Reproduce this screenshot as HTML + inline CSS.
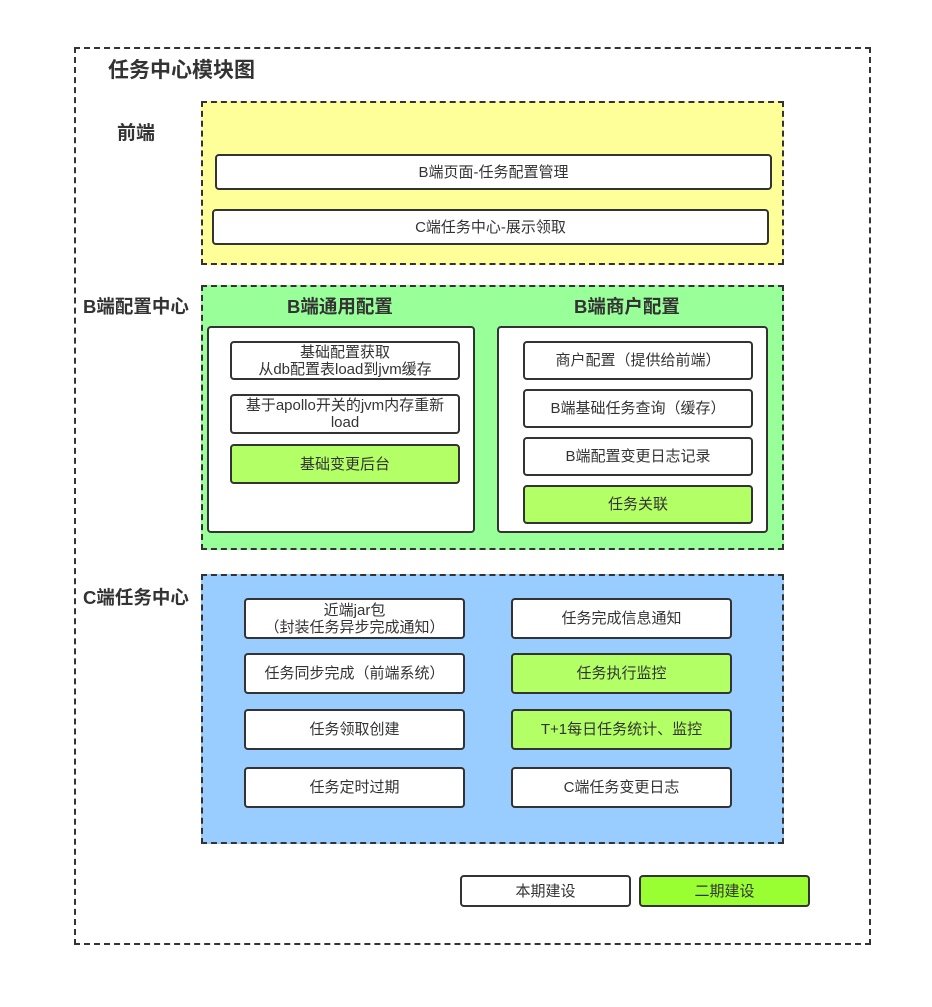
<!DOCTYPE html>
<html><head><meta charset="utf-8"><style>
body{margin:0;width:932px;height:1007px;background:#fff;position:relative;overflow:hidden;font-family:"Liberation Sans","Noto Sans CJK SC",sans-serif;color:#333}
.a{position:absolute;box-sizing:border-box}
.d{border:2px dashed #333}
.b{border:2px solid #333;border-radius:4px;background:#fff;display:flex;align-items:center;justify-content:center;text-align:center;font-size:15px;line-height:17px;white-space:nowrap}
.g{background:#b3ff66}
.t{position:absolute;font-weight:bold;white-space:nowrap;color:#333}
</style></head><body>
<div class="a d" style="left:74px;top:47px;width:797px;height:898px"></div>
<div class="t" style="left:108px;top:54px;font-size:21px">任务中心模块图</div>

<div class="t" style="left:117px;top:118px;font-size:19px">前端</div>
<div class="a d" style="left:201px;top:101px;width:583px;height:164px;background:#ffff99"></div>
<div class="a b" style="left:215px;top:154px;width:557px;height:36px">B端页面-任务配置管理</div>
<div class="a b" style="left:212px;top:209px;width:557px;height:36px">C端任务中心-展示领取</div>

<div class="t" style="left:83px;top:293px;font-size:18.5px">B端配置中心</div>
<div class="a d" style="left:201px;top:285px;width:583px;height:265px;background:#99ff99"></div>
<div class="t" style="left:287px;top:293px;font-size:18.5px">B端通用配置</div>
<div class="t" style="left:574px;top:293px;font-size:18.5px">B端商户配置</div>
<div class="a b" style="left:207px;top:326px;width:268px;height:207px"></div>
<div class="a b" style="left:497px;top:326px;width:271px;height:207px"></div>
<div class="a b" style="left:230px;top:341px;width:230px;height:39px">基础配置获取<br>从db配置表load到jvm缓存</div>
<div class="a b" style="left:230px;top:394px;width:230px;height:40px">基于apollo开关的jvm内存重新<br>load</div>
<div class="a b g" style="left:230px;top:444px;width:230px;height:40px">基础变更后台</div>
<div class="a b" style="left:523px;top:341px;width:230px;height:39px">商户配置（提供给前端）</div>
<div class="a b" style="left:523px;top:389px;width:230px;height:39px">B端基础任务查询（缓存）</div>
<div class="a b" style="left:523px;top:437px;width:230px;height:39px">B端配置变更日志记录</div>
<div class="a b g" style="left:523px;top:485px;width:230px;height:39px">任务关联</div>

<div class="t" style="left:83px;top:584px;font-size:18.5px">C端任务中心</div>
<div class="a d" style="left:201px;top:574px;width:583px;height:270px;background:#99ccff"></div>
<div class="a b" style="left:244px;top:598px;width:221px;height:41px">近端jar包<br>（封装任务异步完成通知）</div>
<div class="a b" style="left:244px;top:653px;width:221px;height:41px">任务同步完成（前端系统）</div>
<div class="a b" style="left:244px;top:709px;width:221px;height:41px">任务领取创建</div>
<div class="a b" style="left:244px;top:767px;width:221px;height:41px">任务定时过期</div>
<div class="a b" style="left:511px;top:598px;width:221px;height:41px">任务完成信息通知</div>
<div class="a b g" style="left:511px;top:653px;width:221px;height:41px">任务执行监控</div>
<div class="a b g" style="left:511px;top:709px;width:221px;height:41px">T+1每日任务统计、监控</div>
<div class="a b" style="left:511px;top:767px;width:221px;height:41px">C端任务变更日志</div>

<div class="a b" style="left:460px;top:875px;width:171px;height:32px">本期建设</div>
<div class="a b" style="left:639px;top:875px;width:171px;height:32px;background:#99ff33">二期建设</div>
</body></html>
